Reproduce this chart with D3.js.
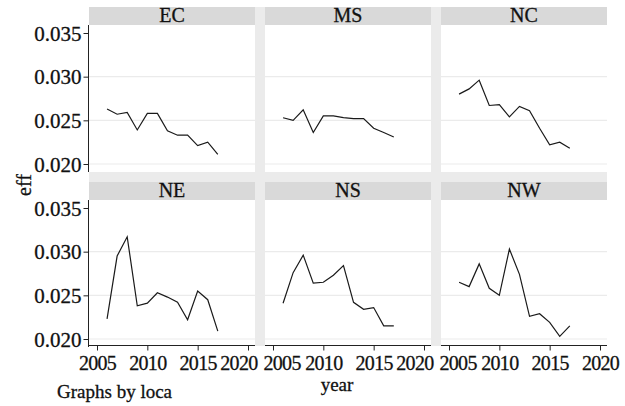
<!DOCTYPE html>
<html>
<head>
<meta charset="utf-8">
<script src="https://cdn.jsdelivr.net/npm/d3@7"></script>
<style>
  html, body { margin: 0; padding: 0; background: #ffffff; }
  svg { display: block; }
  text { font-family: "Liberation Serif", "Times New Roman", serif; fill: #111; }
</style>
</head>
<body>
<svg id="chart" width="625" height="406"></svg>
<script>
// Efficiency by region, 2006-2017
const regions = ["EC", "MS", "NC", "NE", "NS", "NW"];
const years = [2006, 2007, 2008, 2009, 2010, 2011, 2012, 2013, 2014, 2015, 2016, 2017];

const effEC = [0.0263, 0.0257, 0.0259, 0.0239, 0.0258, 0.0258, 0.0238, 0.0233, 0.0233, 0.0221, 0.0225, 0.0211];
const effMS = [0.0253, 0.0250, 0.0262, 0.0236, 0.0255, 0.0255, 0.0253, 0.0252, 0.0252, 0.0241, 0.0236, 0.0231];
const effNC = [0.0280, 0.0286, 0.0296, 0.0267, 0.0268, 0.0254, 0.0266, 0.0261, 0.0241, 0.0222, 0.0225, 0.0218];
const effNE = [0.0223, 0.0295, 0.0317, 0.0238, 0.0241, 0.0253, 0.0248, 0.0242, 0.0222, 0.0255, 0.0245, 0.0209];
const effNS = [0.0241, 0.0276, 0.0296, 0.0264, 0.0265, 0.0273, 0.0284, 0.0242, 0.0234, 0.0236, 0.0215, 0.0215];
const effNW = [0.0265, 0.0260, 0.0286, 0.0258, 0.0250, 0.0303, 0.0274, 0.0226, 0.0229, 0.0219, 0.0203, 0.0215];

const yTicks = [0.020, 0.025, 0.030, 0.035];
const xTicks = [2005, 2010, 2015, 2020];

const seriesByRegion = { EC: effEC, MS: effMS, NC: effNC, NE: effNE, NS: effNS, NW: effNW };

// panel grid geometry
const colX = [89, 265, 441];
const rowY = [7, 182];
const panelW = 166;
const stripH = 18;
const plotH = 147;

const svg = d3.select("#chart");

// light grey band between the panels
svg.append("rect")
  .attr("x", colX[0]).attr("y", rowY[0])
  .attr("width", colX[2] + panelW - colX[0])
  .attr("height", rowY[1] + stripH + plotH - rowY[0] - 1)
  .attr("fill", "#ebebeb");

// scales are relative to each panel's plot area
const x = d3.scaleLinear().domain([2005, 2020]).range([8, 159]);
const y = d3.scaleLinear().domain([0.020, 0.035]).range([139, 8]);

const line = d3.line()
  .x(d => x(d.year))
  .y(d => y(d.eff));

regions.forEach((reg, i) => {
  const col = i % 3, row = Math.floor(i / 3);
  const g = svg.append("g")
    .attr("transform", `translate(${colX[col]},${rowY[row]})`);

  // strip header
  g.append("rect")
    .attr("x", 0).attr("y", 0)
    .attr("width", panelW).attr("height", stripH)
    .attr("fill", "#d9d9d9");
  g.append("text")
    .attr("x", panelW / 2).attr("y", stripH - 3)
    .attr("text-anchor", "middle")
    .attr("font-size", 20)
    .attr("stroke", "#111").attr("stroke-width", 0.3)
    .text(reg);

  const p = g.append("g").attr("transform", `translate(0,${stripH})`);
  p.append("rect")
    .attr("x", 0).attr("y", 0)
    .attr("width", panelW).attr("height", plotH)
    .attr("fill", "#ffffff");

  // horizontal grid lines (the top tick has none)
  p.selectAll("line.grid")
    .data(yTicks.slice(0, 3))
    .join("line")
    .attr("class", "grid")
    .attr("x1", 0).attr("x2", panelW)
    .attr("y1", d => y(d)).attr("y2", d => y(d))
    .attr("stroke", "#ebebeb")
    .attr("stroke-width", 1.2);

  const pts = years.map((yr, k) => ({ year: yr, eff: seriesByRegion[reg][k] }));
  p.append("path")
    .datum(pts)
    .attr("d", line)
    .attr("fill", "none")
    .attr("stroke", "#1a1a1a")
    .attr("stroke-width", 1.2)
    .attr("stroke-linejoin", "miter");

  // y axis on the first column
  if (col === 0) {
    const ya = p.append("g")
      .attr("transform", "translate(-0.5,0)")
      .call(d3.axisLeft(y).tickValues(yTicks).tickFormat(d3.format(".3f")).tickSize(5).tickPadding(2));
    ya.select(".domain").attr("d", `M-0,0V${plotH}`).attr("stroke", "#222");
    ya.selectAll(".tick line").attr("stroke", "#222");
    ya.selectAll(".tick text")
      .attr("font-family", "Liberation Serif, serif")
      .attr("font-size", 21)
      .attr("fill", "#111")
      .attr("stroke", "#111").attr("stroke-width", 0.3)
      .attr("dy", "0.34em");
  }

  // x axis on the bottom row; end labels are tucked inside the panel
  if (row === 1) {
    const xa = p.append("g")
      .attr("transform", `translate(0,${plotH - 1.5})`)
      .call(d3.axisBottom(x).tickValues(xTicks).tickFormat(d3.format("d")).tickSize(5));
    xa.select(".domain").attr("d", `M0,0H${panelW}`).attr("stroke", "#222");
    xa.selectAll(".tick line").attr("stroke", "#222");
    xa.selectAll(".tick text")
      .attr("font-family", "Liberation Serif, serif")
      .attr("font-size", 20)
      .attr("letter-spacing", -0.7)
      .attr("fill", "#111")
      .attr("stroke", "#111").attr("stroke-width", 0.3)
      .attr("y", 24).attr("dy", null)
      .each(function (d) {
        const t = d3.select(this);
        if (d === xTicks[xTicks.length - 1] && col < 2) {
          t.attr("text-anchor", "end").attr("x", panelW + 2 - x(d));
        } else if (d === xTicks[0] && col > 0) {
          t.attr("text-anchor", "start").attr("x", -2 - x(d));
        }
      });
  }
});

// axis titles and note
svg.append("text")
  .attr("transform", "translate(31,185) rotate(-90)")
  .attr("text-anchor", "middle")
  .attr("font-size", 20)
  .attr("stroke", "#111").attr("stroke-width", 0.3)
  .text("eff");

svg.append("text")
  .attr("x", 337).attr("y", 391)
  .attr("text-anchor", "middle")
  .attr("font-size", 19)
  .attr("stroke", "#111").attr("stroke-width", 0.3)
  .text("year");

svg.append("text")
  .attr("x", 57).attr("y", 398)
  .attr("font-size", 19)
  .attr("stroke", "#111").attr("stroke-width", 0.3)
  .text("Graphs by loca");
</script>
</body>
</html>
